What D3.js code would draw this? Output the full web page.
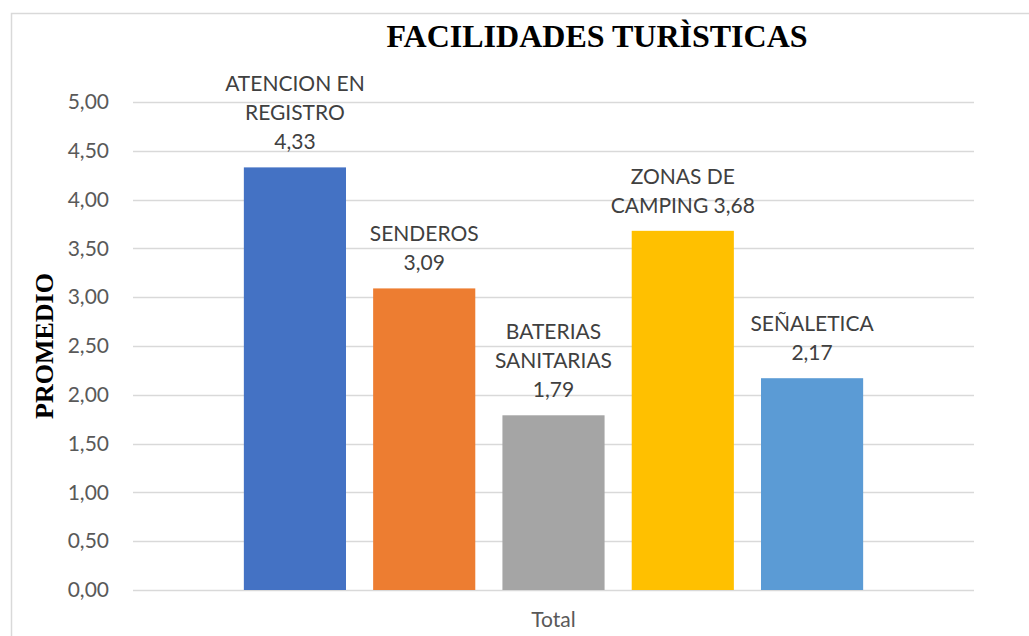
<!DOCTYPE html>
<html>
<head>
<meta charset="utf-8">
<script src="https://cdn.jsdelivr.net/npm/d3@7"></script>
<style>
  body { margin: 0; background: #fff; }
  svg text { font-family: Lato, "Noto Sans", sans-serif; }
</style>
</head>
<body>
<svg></svg>
<script>
var width = 1029;
var height = 636;
var margins = { left: 133, top: 102, right: 55, bottom: 46 };

// data
var category = ["Total"];
var items = ["ATENCION EN REGISTRO", "SENDEROS", "BATERIAS SANITARIAS", "ZONAS DE CAMPING", "SEÑALETICA"];
var promedio = [4.33, 3.09, 1.79, 3.68, 2.17];
var colors = ["#4472C4", "#ED7D31", "#A5A5A5", "#FFC000", "#5B9BD5"];
var yTicks = [0, 0.5, 1, 1.5, 2, 2.5, 3, 3.5, 4, 4.5, 5];

var fmt = function(v){ return d3.format(".2f")(v).replace(".", ","); };

var svg = d3.select("svg")
            .attr("width", width)
            .attr("height", height);

// chart frame
svg.append("rect")
    .attr("x", 11.5).attr("y", 13.5)
    .attr("width", 1040).attr("height", 650)
    .attr("fill", "none")
    .attr("stroke", "#d9d9d9")
    .attr("stroke-width", 1.5);

var plotW = width - margins.left - margins.right;
var plotH = height - margins.top - margins.bottom;

var yscale = d3.scaleLinear()
               .domain([0, 5])
               .range([margins.top + plotH, margins.top]);

var x0 = d3.scaleBand()
           .domain(category)
           .range([margins.left, margins.left + plotW])
           .paddingOuter(0.179);

var x1 = d3.scaleBand()
           .domain(items)
           .range([0, x0.bandwidth()])
           .paddingInner(0.21);

// gridlines
svg.append("g")
    .selectAll("line")
    .data(yTicks)
    .enter().append("line")
    .attr("x1", margins.left)
    .attr("x2", margins.left + plotW)
    .attr("y1", function(d){ return Math.round(yscale(d)) + 0.5; })
    .attr("y2", function(d){ return Math.round(yscale(d)) + 0.5; })
    .attr("stroke", "#d9d9d9")
    .attr("stroke-width", 1.3);

// y axis labels
var yaxis = d3.axisLeft(yscale)
              .tickValues(yTicks)
              .tickFormat(fmt)
              .tickSize(0)
              .tickPadding(24);

svg.append("g")
    .attr("transform", "translate(" + margins.left + ",0)")
    .call(yaxis)
    .call(function(g){ g.select(".domain").remove(); })
    .selectAll("text")
    .attr("font-size", 21)
    .attr("fill", "#595959")
    .style("font-family", "Lato, sans-serif");

// bars
var bars = svg.append("g")
    .attr("transform", "translate(" + x0("Total") + ",0)");

bars.selectAll("rect")
    .data(promedio)
    .enter().append("rect")
    .attr("x", function(d, i){ return x1(items[i]); })
    .attr("y", function(d){ return yscale(d); })
    .attr("width", x1.bandwidth())
    .attr("height", function(d){ return yscale(0) - yscale(d); })
    .attr("fill", function(d, i){ return colors[i]; });

// data labels: category name + value, wrapped
var lineH = 29;
var maxW = 145;
var labels = bars.selectAll("text.lbl")
    .data(promedio)
    .enter().append("text")
    .attr("class", "lbl")
    .attr("text-anchor", "middle")
    .attr("font-size", 21)
    .attr("fill", "#404040");

labels.each(function(d, i){
    var t = d3.select(this);
    var words = (items[i] + " " + fmt(d)).split(" ");
    var lines = [];
    var cur = "";
    var probe = t.append("tspan");
    words.forEach(function(w){
        var test = cur ? cur + " " + w : w;
        probe.text(test);
        if (cur && probe.node().getComputedTextLength() > maxW) {
            lines.push(cur);
            cur = w;
        } else {
            cur = test;
        }
    });
    lines.push(cur);
    probe.remove();
    var cx = x1(items[i]) + x1.bandwidth() / 2;
    var baseY = yscale(d) - 18;
    lines.forEach(function(l, k){
        t.append("tspan")
         .attr("x", cx)
         .attr("y", baseY - (lines.length - 1 - k) * lineH)
         .text(l);
    });
});

// category axis label
svg.append("text")
    .attr("x", x0("Total") + x0.bandwidth() / 2)
    .attr("y", 627)
    .attr("text-anchor", "middle")
    .attr("font-size", 21)
    .attr("fill", "#595959")
    .text(category[0]);

// title
svg.append("text")
    .attr("x", 597)
    .attr("y", 47)
    .attr("text-anchor", "middle")
    .style("font-family", "'Liberation Serif', 'Times New Roman', serif")
    .style("font-weight", "bold")
    .style("font-size", "32px")
    .attr("fill", "#000")
    .text("FACILIDADES TURÌSTICAS");

// y axis title
svg.append("text")
    .attr("transform", "translate(53," + (margins.top + plotH / 2) + ") rotate(-90)")
    .attr("text-anchor", "middle")
    .style("font-family", "'Liberation Serif', 'Times New Roman', serif")
    .style("font-weight", "bold")
    .style("font-size", "26px")
    .attr("fill", "#000")
    .text("PROMEDIO");
</script>
</body>
</html>
